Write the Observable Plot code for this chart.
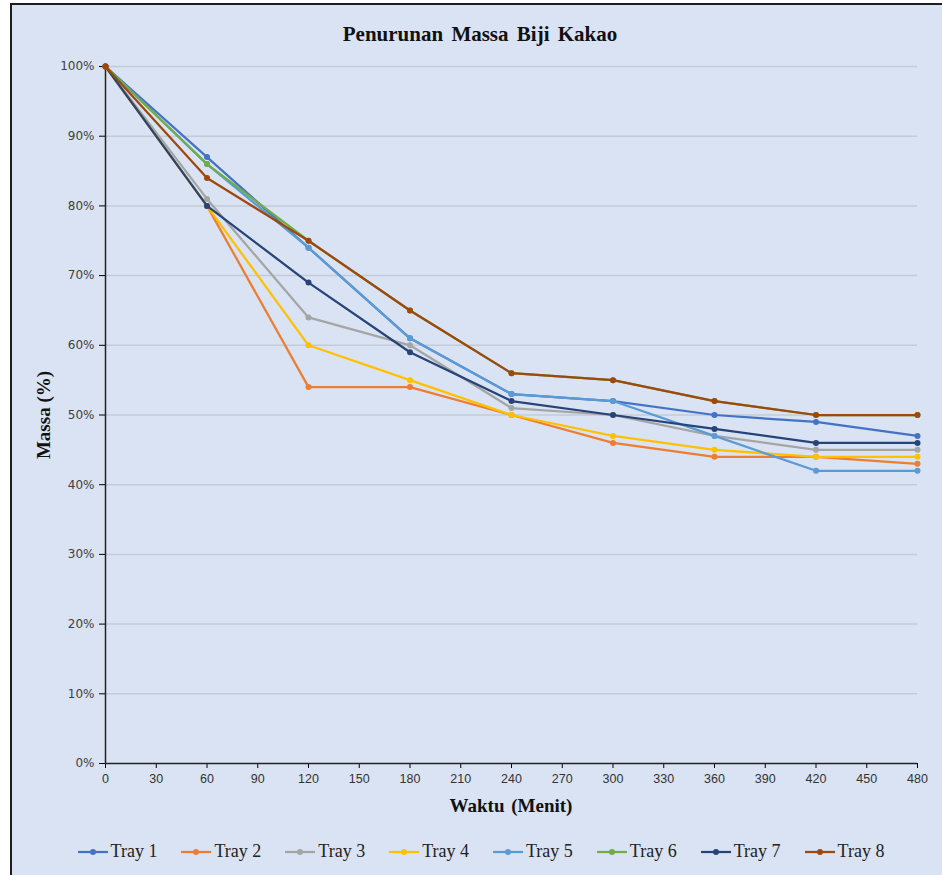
<!DOCTYPE html>
<html>
<head>
<meta charset="utf-8">
<script src="https://cdn.jsdelivr.net/npm/d3@7"></script>
<script src="https://cdn.jsdelivr.net/npm/@observablehq/plot@0.6"></script>
<style>
  html, body { margin: 0; padding: 0; width: 942px; height: 875px; overflow: hidden; background: #ffffff; }
  #frame { position: absolute; left: 10px; top: 3px; width: 960px; height: 900px; border: 2px solid #1e1e1e; background: #dae3f3; box-sizing: border-box; }
  #chart { position: absolute; left: 0; top: 0; }
  .title { position: absolute; left: 10px; width: 940px; top: 22px; text-align: center; font-family: "Liberation Serif", "Times New Roman", serif; font-weight: bold; font-size: 21px; word-spacing: 3px; color: #111; }
  .ylab { position: absolute; left: 44px; top: 415px; transform: translate(-50%, -50%) rotate(-90deg); font-family: "Liberation Serif", serif; font-weight: bold; font-size: 19px; color: #111; white-space: nowrap; }
  .xlab { position: absolute; left: 511px; top: 806px; transform: translate(-50%, -50%); font-family: "Liberation Serif", serif; font-weight: bold; font-size: 19px; word-spacing: 2px; color: #111; white-space: nowrap; }
  #legend { position: absolute; left: 0; width: 962px; top: 841px; display: flex; justify-content: center; gap: 24px; font-family: "Liberation Serif", serif; font-size: 18px; color: #222; }
  .item { display: flex; align-items: center; gap: 3px; }
</style>
</head>
<body>
<div id="frame"></div>
<div id="chart"></div>
<div class="title">Penurunan Massa Biji Kakao</div>
<div class="ylab">Massa (%)</div>
<div class="xlab">Waktu (Menit)</div>
<div id="legend"></div>
<script>
const times = [0, 60, 120, 180, 240, 300, 360, 420, 480];
const trayNames = ["Tray 1", "Tray 2", "Tray 3", "Tray 4", "Tray 5", "Tray 6", "Tray 7", "Tray 8"];
const trayColors = ["#4472C4", "#ED7D31", "#A5A5A5", "#FFC000", "#5B9BD5", "#70AD47", "#264478", "#9E480E"];
const tray1 = [100, 87, 74, 61, 53, 52, 50, 49, 47];
const tray2 = [100, 80, 54, 54, 50, 46, 44, 44, 43];
const tray3 = [100, 81, 64, 60, 51, 50, 47, 45, 45];
const tray4 = [100, 80, 60, 55, 50, 47, 45, 44, 44];
const tray5 = [100, 86, 74, 61, 53, 52, 47, 42, 42];
const tray6 = [100, 86, 75, 65, 56, 55, 52, 50, 50];
const tray7 = [100, 80, 69, 59, 52, 50, 48, 46, 46];
const tray8 = [100, 84, 75, 65, 56, 55, 52, 50, 50];
const xTicks = d3.range(0, 481, 30);
const yTicks = [0, 10, 20, 30, 40, 50, 60, 70, 80, 90, 100];

const series = [tray1, tray2, tray3, tray4, tray5, tray6, tray7, tray8];
const rows = [];
series.forEach((vals, i) => vals.forEach((v, j) => rows.push({tray: trayNames[i], t: times[j], v})));

const W = 942, H = 830;
const lineMarks = [];
trayNames.forEach((name, i) => {
  const d = rows.filter(r => r.tray === name);
  lineMarks.push(Plot.line(d, {x: "t", y: "v", stroke: trayColors[i], strokeWidth: 2.25}));
  lineMarks.push(Plot.dot(d, {x: "t", y: "v", fill: trayColors[i], r: 3}));
});

const chart = Plot.plot({
  width: W, height: H,
  marginLeft: 105, marginRight: 25, marginTop: 66, marginBottom: 67,
  style: {background: "transparent", fontFamily: "DejaVu Sans, sans-serif"},
  x: {domain: [0, 480], label: null},
  y: {domain: [0, 100], label: null},
  marks: [
    Plot.gridY(yTicks.filter(d => d > 0), {stroke: "#c3cbd9", strokeOpacity: 1, strokeWidth: 1.5}),
    Plot.axisY({ticks: yTicks, tickFormat: d => d + "%", tickSize: 6, tickPadding: 5, fontSize: 12, fill: "#404040", label: null}),
    Plot.axisX({ticks: xTicks, tickSize: 5, tickPadding: 6, fontSize: 12.5, fontFamily: "Liberation Sans Narrow, Arial Narrow, sans-serif", fill: "#333", label: null}),
    Plot.ruleX([0], {stroke: "#222", strokeWidth: 1.5}),
    Plot.ruleY([0], {stroke: "#222", strokeWidth: 1.5}),
    ...lineMarks
  ]
});
document.getElementById("chart").appendChild(chart);

const legend = document.getElementById("legend");
trayNames.forEach((name, i) => {
  const item = document.createElement("div");
  item.className = "item";
  item.innerHTML = `<svg width="30" height="10"><line x1="0" x2="30" y1="5" y2="5" stroke="${trayColors[i]}" stroke-width="2.25"/><circle cx="15" cy="5" r="3" fill="${trayColors[i]}"/></svg><span>${name}</span>`;
  legend.appendChild(item);
});
</script>
</body>
</html>
